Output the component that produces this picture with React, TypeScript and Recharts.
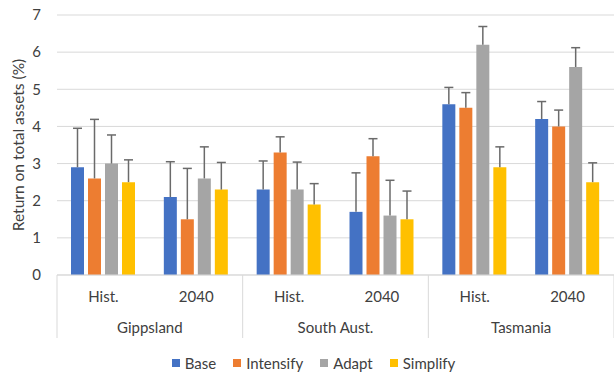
import React from 'react';
import { BarChart, Bar, XAxis, YAxis, CartesianGrid, Legend, Rectangle } from 'recharts';

const regions = ['Gippsland', 'South Aust.', 'Tasmania'];
const periods = ['Hist.', '2040'];

const base = [2.9, 2.1, 2.3, 1.7, 4.6, 4.2];
const intensify = [2.6, 1.5, 3.3, 3.2, 4.5, 4.0];
const adapt = [3.0, 2.6, 2.3, 1.6, 6.2, 5.6];
const simplify = [2.5, 2.3, 1.9, 1.5, 2.9, 2.5];

// upper error bar lengths
const baseErr = [1.05, 0.95, 0.77, 1.05, 0.45, 0.47];
const intensifyErr = [1.59, 1.37, 0.42, 0.47, 0.41, 0.44];
const adaptErr = [0.77, 0.85, 0.74, 0.95, 0.49, 0.52];
const simplifyErr = [0.6, 0.73, 0.56, 0.76, 0.55, 0.52];

const yTicks = [0, 1, 2, 3, 4, 5, 6, 7];

const series = [
  { key: 'base', name: 'Base', color: '#4472C4' },
  { key: 'intensify', name: 'Intensify', color: '#ED7D31' },
  { key: 'adapt', name: 'Adapt', color: '#A5A5A5' },
  { key: 'simplify', name: 'Simplify', color: '#FFC000' },
];

const data = regions.flatMap((region, r) =>
  periods.map((period, p) => {
    const i = r * periods.length + p;
    return {
      cat: `${region}|${period}`,
      base: base[i],
      intensify: intensify[i],
      adapt: adapt[i],
      simplify: simplify[i],
      baseErr: baseErr[i],
      intensifyErr: intensifyErr[i],
      adaptErr: adaptErr[i],
      simplifyErr: simplifyErr[i],
    };
  })
);

const FONT = 'Lato, "Noto Sans", sans-serif';
const TEXT = '#404040';
const GRID = '#D9D9D9';

// bar plus upper error whisker, scaled from the bar's own height
const BarWithErr = (props: any) => {
  const { x, y, width, height, payload, valueKey, errKey } = props;
  const v = payload[valueKey];
  const err = payload[errKey];
  const pxPerUnit = v ? height / v : 0;
  const top = y - err * pxPerUnit;
  const cx = x + width / 2;
  return (
    <g>
      <Rectangle {...props} />
      <line x1={cx} x2={cx} y1={y} y2={top} stroke="#6A6A6A" strokeWidth={1.5} />
      <line x1={cx - 4.5} x2={cx + 4.5} y1={top} y2={top} stroke="#6A6A6A" strokeWidth={1.5} />
    </g>
  );
};

const CategoryTick = (props: any) => {
  const { x, y, payload, index } = props;
  const [region, period] = String(payload.value).split('|');
  const half = payload.offset ?? 46;
  const isFirst = index % periods.length === 0;
  const isLast = index === data.length - 1;
  return (
    <g>
      <text x={x} y={y} dy={27} textAnchor="middle" fill={TEXT} fontSize={15} fontFamily={FONT}>
        {period}
      </text>
      {isFirst && (
        <>
          <line x1={x - half} x2={x - half} y1={y} y2={y + 63} stroke={GRID} />
          <text x={x + half} y={y} dy={58} textAnchor="middle" fill={TEXT} fontSize={15} fontFamily={FONT}>
            {region}
          </text>
        </>
      )}
      {isLast && <line x1={x + half} x2={x + half} y1={y} y2={y + 63} stroke={GRID} />}
    </g>
  );
};

const YTitle = (props: any) => {
  const { viewBox } = props;
  const cx = viewBox.x + 18;
  const cy = viewBox.y + viewBox.height / 2;
  return (
    <text x={cx} y={cy} transform={`rotate(-90 ${cx} ${cy})`} textAnchor="middle" dominantBaseline="central"
      fill={TEXT} fontSize={15.5} fontFamily={FONT}>
      Return on total assets (%)
    </text>
  );
};

const LegendContent = () => (
  <div style={{ display: 'flex', justifyContent: 'center', paddingLeft: 30, paddingTop: 9, fontFamily: FONT, fontSize: 15, color: TEXT }}>
    {series.map((s) => (
      <div key={s.key} style={{ display: 'flex', alignItems: 'center', marginRight: 17 }}>
        <span style={{ display: 'inline-block', width: 8, height: 8, background: s.color, marginRight: 5 }} />
        <span>{s.name}</span>
      </div>
    ))}
  </div>
);

export default function App() {
  return (
    <div>
      <style>{'body{margin:0}'}</style>
      <BarChart width={614} height={375} data={data} margin={{ top: 15, right: 0, bottom: 0, left: 0 }}
        barSize={13} barGap={4}>
        <CartesianGrid vertical={false} stroke={GRID} />
        <XAxis dataKey="cat" interval={0} height={70} tickSize={0} tickMargin={0} tickLine={false}
          axisLine={{ stroke: GRID }} tick={<CategoryTick />} />
        <YAxis domain={[0, 7]} ticks={yTicks} width={57} tickSize={0} tickMargin={16} axisLine={false}
          tickLine={false} tick={{ fill: TEXT, fontSize: 15, fontFamily: FONT }} label={<YTitle />} />
        <Legend verticalAlign="bottom" height={30} content={<LegendContent />} />
        {series.map((s) => (
          <Bar key={s.key} dataKey={s.key} name={s.name} fill={s.color} isAnimationActive={false}
            shape={(p: any) => <BarWithErr {...p} valueKey={s.key} errKey={`${s.key}Err`} />} />
        ))}
      </BarChart>
    </div>
  );
}
